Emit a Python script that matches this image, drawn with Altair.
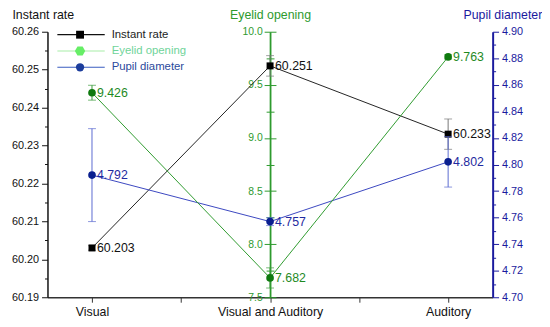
import altair as alt
import pandas as pd

categories = ["Visual", "Visual and Auditory", "Auditory"]
x_pos = [1, 2, 3]
instant_rate = [60.203, 60.251, 60.233]
instant_err = [0.0006, 0.0027, 0.004]
eyelid_opening = [9.426, 7.682, 9.763]
eyelid_err = [0.07, 0.095, 0.02]
pupil_diameter = [4.792, 4.757, 4.802]
pupil_err = [0.035, 0.003, 0.019]

instant_domain = [60.19, 60.26]
eyelid_domain = [7.5, 10.0]
pupil_domain = [4.70, 4.90]
instant_major = [60.19, 60.20, 60.21, 60.22, 60.23, 60.24, 60.25, 60.26]
instant_minor = [60.195, 60.205, 60.215, 60.225, 60.235, 60.245, 60.255]
eyelid_major = [7.5, 8.0, 8.5, 9.0, 9.5, 10.0]
eyelid_minor = [7.75, 8.25, 8.75, 9.25, 9.75]
pupil_major = [4.70, 4.72, 4.74, 4.76, 4.78, 4.80, 4.82, 4.84, 4.86, 4.88, 4.90]
pupil_minor = [4.71, 4.73, 4.75, 4.77, 4.79, 4.81, 4.83, 4.85, 4.87, 4.89]
x_ticks = [1, 1.5, 2, 2.5, 3]
eyelid_axis_at = 2

legend_names = ["Instant rate", "Eyelid opening", "Pupil diameter"]
legend_line_colors = ["#111111", "#a8eea8", "#3a5cc0"]
legend_marker_colors = ["#000000", "#66ee66", "#1c3d9c"]
legend_text_colors = ["#222222", "#6fd49a", "#2b4a9c"]
legend_shapes = ["square", "M-1,0L-0.5,-0.866L0.5,-0.866L1,0L0.5,0.866L-0.5,0.866Z", "circle"]
legend_sizes = [64, 110, 70]

W, H = 451, 269
FONT = "Liberation Sans"
GREEN_AXIS = "#2e9a2e"
BLUE_AXIS = "#1a1a9e"

df = pd.DataFrame({
    "cat": categories, "x": x_pos,
    "inst": instant_rate,
    "inst_lo": [v - e for v, e in zip(instant_rate, instant_err)],
    "inst_hi": [v + e for v, e in zip(instant_rate, instant_err)],
    "eye": eyelid_opening,
    "eye_lo": [v - e for v, e in zip(eyelid_opening, eyelid_err)],
    "eye_hi": [v + e for v, e in zip(eyelid_opening, eyelid_err)],
    "pup": pupil_diameter,
    "pup_lo": [v - e for v, e in zip(pupil_diameter, pupil_err)],
    "pup_hi": [v + e for v, e in zip(pupil_diameter, pupil_err)],
})

label_expr = " : ".join(
    [f"datum.value == {x} ? '{c}'" for x, c in zip(x_pos, categories)] + ["''"]
)
x_axis = alt.Axis(values=x_ticks, labelExpr=label_expr, title=None, grid=False,
                  tickSize=5, domainColor="#333333", tickColor="#333333",
                  domainWidth=1.5, labelColor="#111111", labelFontSize=12.5,
                  labelPadding=3, labelFlush=False, labelOverlap=False)
x_scale = alt.Scale(domain=[0.75, 3.25], nice=False, zero=False)
x_enc = alt.X("x:Q", scale=x_scale, axis=x_axis)


def series(field, scale, axis, line_color, pt_color, err_color, txt_color, shape, size, fmt):
    base = alt.Chart(df).encode(x=x_enc)
    line = base.mark_line(color=line_color, strokeWidth=1).encode(
        y=alt.Y(f"{field}:Q", scale=scale, axis=axis))
    rule = base.mark_rule(color=err_color, strokeWidth=1).encode(
        y=alt.Y(f"{field}_lo:Q", scale=scale, axis=axis), y2=f"{field}_hi:Q")
    cap1 = base.mark_tick(orient="horizontal", size=8, thickness=1, color=err_color).encode(
        y=alt.Y(f"{field}_lo:Q", scale=scale, axis=axis))
    cap2 = base.mark_tick(orient="horizontal", size=8, thickness=1, color=err_color).encode(
        y=alt.Y(f"{field}_hi:Q", scale=scale, axis=axis))
    pts = base.mark_point(shape=shape, filled=True, size=size, color=pt_color, opacity=1).encode(
        y=alt.Y(f"{field}:Q", scale=scale, axis=axis))
    txt = base.mark_text(align="left", baseline="middle", dx=5, fontSize=12.5,
                         color=txt_color, font=FONT).encode(
        y=alt.Y(f"{field}:Q", scale=scale, axis=axis),
        text=alt.Text(f"{field}:Q", format=fmt))
    return alt.layer(line, rule, cap1, cap2, pts, txt)


def tick_layer(field, scale, axis):
    return alt.Chart(df).mark_point(opacity=0).encode(
        x=x_enc, y=alt.Y(f"{field}:Q", scale=scale, axis=axis))


inst_scale = alt.Scale(domain=instant_domain, nice=False, zero=False)
eye_scale = alt.Scale(domain=eyelid_domain, nice=False, zero=False)
pup_scale = alt.Scale(domain=pupil_domain, nice=False, zero=False)

inst_axis = alt.Axis(orient="left", values=instant_major, format=".2f", grid=False,
                     tickSize=6, tickColor="#111111", domainColor="#111111", domainWidth=1.5,
                     labelColor="#111111", labelFontSize=11, labelPadding=3,
                     title="Instant rate", titleAngle=0, titleX=-36, titleY=-13,
                     titleAlign="left", titleBaseline="alphabetic", titleFontSize=12.5,
                     titleFontWeight="normal", titleColor="#111111")
inst_minor_axis = alt.Axis(orient="left", values=instant_minor, labels=False, domain=False,
                           grid=False, tickSize=3, tickColor="#111111", title=None)

# the middle axis: domain line at the category position, ticks crossing it
eye_pos = W * (eyelid_axis_at - 0.75) / 2.5
eye_domain_axis = alt.Axis(orient="left", offset=-eye_pos, values=eyelid_major, labels=False,
                           ticks=False, domain=True, domainColor=GREEN_AXIS, domainWidth=1.8,
                           grid=False, title=None)
eye_minor_axis = alt.Axis(orient="left", offset=-(eye_pos + 4), values=eyelid_minor,
                          labels=False, domain=False, grid=False, tickSize=8,
                          tickColor=GREEN_AXIS, title=None)
eye_axis = alt.Axis(orient="left", offset=-(eye_pos + 6), values=eyelid_major, format=".1f",
                    grid=False, tickSize=12, tickColor=GREEN_AXIS, domain=False,
                    labelColor=GREEN_AXIS, labelFontSize=10.5, labelPadding=2,
                    title="Eyelid opening", titleAngle=0, titleX=-6, titleY=-13,
                    titleAlign="center", titleBaseline="alphabetic", titleFontSize=12.5,
                    titleFontWeight="normal", titleColor=GREEN_AXIS)

pup_axis = alt.Axis(orient="right", values=pupil_major, format=".2f", grid=False,
                    tickSize=6, tickColor=BLUE_AXIS, domainColor=BLUE_AXIS, domainWidth=2,
                    labelColor=BLUE_AXIS, labelFontSize=11, labelPadding=3,
                    title="Pupil diameter", titleAngle=0, titleX=-30, titleY=-13,
                    titleAlign="left", titleBaseline="alphabetic", titleFontSize=12.5,
                    titleFontWeight="normal", titleColor=BLUE_AXIS)
pup_minor_axis = alt.Axis(orient="right", values=pupil_minor, labels=False, domain=False,
                          grid=False, tickSize=3, tickColor=BLUE_AXIS, title=None)

inst_layer = series("inst", inst_scale, inst_axis, "#222222", "#000000", "#777777",
                    "#111111", "square", 50, ".3f")
eye_layer = series("eye", eye_scale, eye_axis, "#2e9a2e", "#0f7a0f", "#3a9a3a",
                   "#1f8a1f", "circle", 60, ".3f")
pup_layer = series("pup", pup_scale, pup_axis, "#3a46c0", "#0a1f8f", "#5a6ad0",
                   "#1f2aa0", "circle", 60, ".3f")

leg_df = pd.DataFrame({
    "name": legend_names, "line_color": legend_line_colors,
    "marker_color": legend_marker_colors, "text_color": legend_text_colors,
    "shape": legend_shapes, "size": legend_sizes,
})
leg_y = alt.Y("name:N", scale=alt.Scale(type="point", domain=legend_names, range=[3, 36],
                                        padding=0), axis=None)
leg_base = alt.Chart(leg_df).encode(y=leg_y)
leg_line = leg_base.mark_rule(strokeWidth=1.2).encode(
    x=alt.value(10), x2=alt.value(58), color=alt.Color("line_color:N", scale=None))
leg_pt = leg_base.mark_point(filled=True, opacity=1).encode(
    x=alt.value(33), color=alt.Color("marker_color:N", scale=None),
    shape=alt.Shape("shape:N", scale=None), size=alt.Size("size:Q", scale=None))
leg_txt = leg_base.mark_text(align="left", baseline="middle", fontSize=11.5, font=FONT).encode(
    x=alt.value(65), text="name:N", color=alt.Color("text_color:N", scale=None))
legend_layer = alt.layer(leg_line, leg_pt, leg_txt)

chart = alt.layer(
    tick_layer("inst", inst_scale, inst_minor_axis),
    tick_layer("pup", pup_scale, pup_minor_axis),
    tick_layer("eye", eye_scale, eye_domain_axis),
    tick_layer("eye", eye_scale, eye_minor_axis),
    inst_layer, pup_layer, eye_layer, legend_layer,
).resolve_scale(y="independent").properties(
    width=W, height=H,
    autosize=alt.AutoSizeParams(type="none"),
    padding={"left": 40, "top": 22, "right": 50, "bottom": 22},
    background="white",
).configure_view(stroke=None).configure_axis(
    labelFont=FONT, titleFont=FONT
).configure_text(font=FONT)

chart.save("out.html", embed_options={"renderer": "svg", "actions": False})
